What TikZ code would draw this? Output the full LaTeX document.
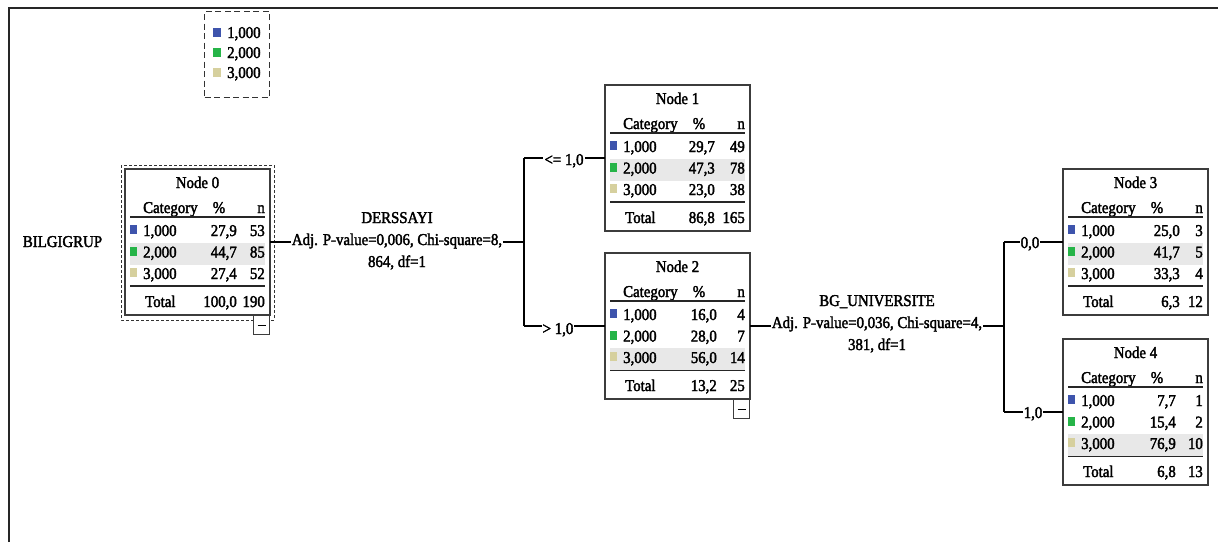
\documentclass[tikz,border=0pt]{standalone}
\usepackage{fontspec}
\setmainfont[FakeStretch=0.9,FakeBold=2.2]{Liberation Serif}
\usetikzlibrary{calc}
\definecolor{cblue}{RGB}{62,84,172}
\definecolor{cgreen}{RGB}{38,180,72}
\definecolor{ctan}{RGB}{214,208,158}
\definecolor{hlgray}{RGB}{232,232,232}
\definecolor{boxline}{RGB}{60,60,60}
\tikzset{
  txt/.style={inner sep=0pt, font=\fontsize{16.5}{19}\selectfont},
  nbox/.style={draw=boxline, line width=1.2pt, minimum width=145pt, minimum height=146pt, inner sep=0pt, outer sep=0pt, anchor=north west},
  rulel/.style={draw=black!85, line width=1.6pt},
  conn/.style={draw=black, line width=1.2pt},
  lbl/.style={txt, fill=white, inner sep=1pt},
  minusbox/.style={draw=boxline, fill=white, line width=1pt, minimum width=16pt, minimum height=19pt, inner sep=0pt, anchor=north east},
  selbox/.style={draw=black!80, line width=1pt, dash pattern=on 3pt off 2pt},
  legbox/.style={draw=black!80, line width=1.2pt, dash pattern=on 6pt off 3.5pt},
  framel/.style={draw=black!85, line width=2pt},
}
\newcommand\ctree[4]{%
  \node[nbox] (#1) at (#2,#3) {};
  \node[txt,anchor=base] (#1-title) at ($(#1.north west)+(72.5,19)$) {#4};
  \node[txt,anchor=base west] (#1-hc) at ($(#1.north west)+(18,44)$) {Category};
  \node[txt,anchor=base] (#1-hp) at ($(#1.north west)+(94,44)$) {\%};
  \node[txt,anchor=base east] (#1-hn) at ($(#1.north west)+(140,44)$) {n};
  \draw[rulel] ($(#1.north west)+(5,48)$) -- ($(#1.north west)+(140,48)$);
  \draw[rulel] ($(#1.north west)+(5,117)$) -- ($(#1.north west)+(140,117)$);
}
\newcommand\hlrow[2]{\fill[hlgray] ($(#1.north west)+(5,#2-15)$) rectangle ($(#1.north west)+(140,#2+7)$);}
\newcommand\crow[7]{%
  \fill[#4] ($(#1.north west)+(5,#3-11)$) rectangle ($(#1.north west)+(12,#3-2)$);
  \node[txt,anchor=base west] (#1-#2l) at ($(#1.north west)+(18,#3)$) {#5};
  \node[txt,anchor=base east] (#1-#2p) at ($(#1.north west)+(\pctx,#3)$) {#6};
  \node[txt,anchor=base east] (#1-#2n) at ($(#1.north west)+(140,#3)$) {#7};
}
\newcommand\ctotal[3]{%
  \node[txt,anchor=base west] (#1-tl) at ($(#1.north west)+(20,138)$) {Total};
  \node[txt,anchor=base east] (#1-tp) at ($(#1.north west)+(\pctx,138)$) {#2};
  \node[txt,anchor=base east] (#1-tn) at ($(#1.north west)+(140,138)$) {#3};
}
\begin{document}
\begin{tikzpicture}[x=1pt,y=-1pt]
\useasboundingbox (0,0) rectangle (1218,542);
% outer frame
\draw[framel] (9,542) -- (9,8) -- (1218,8);

% legend
\node[legbox, minimum width=65pt, minimum height=86pt, anchor=north west] (legend) at (204,11) {};
\fill[cblue] (213,28) rectangle (221,37);
\node[txt,anchor=base west] (leg1) at (227,38) {1,000};
\fill[cgreen] (213,48) rectangle (221,57);
\node[txt,anchor=base west] (leg2) at (227,58) {2,000};
\fill[ctan] (213,68) rectangle (221,77);
\node[txt,anchor=base west] (leg3) at (227,78) {3,000};

% root label
\node[txt,anchor=base] (root) at (62.5,247) {BILGIGRUP};

% Node 0
\def\pctx{112}
\ctree{n0}{125}{169}{Node 0}
\hlrow{n0}{88.5}
\crow{n0}{a}{67}{cblue}{1,000}{27,9}{53}
\crow{n0}{b}{88.5}{cgreen}{2,000}{44,7}{85}
\crow{n0}{c}{110}{ctan}{3,000}{27,4}{52}
\ctotal{n0}{100,0}{190}
\draw[selbox] ($(n0.north west)+(-4,-4)$) rectangle ($(n0.south east)+(4,5)$);
\node[minusbox] (m0) at (n0.south east) {};
\draw[line width=1pt] ($(m0.center)+(-4,0)$) -- ($(m0.center)+(4,0)$);

% Node 1
\def\pctx{110}
\ctree{n1}{605}{85}{Node 1}
\hlrow{n1}{88.5}
\crow{n1}{a}{67}{cblue}{1,000}{29,7}{49}
\crow{n1}{b}{88.5}{cgreen}{2,000}{47,3}{78}
\crow{n1}{c}{110}{ctan}{3,000}{23,0}{38}
\ctotal{n1}{86,8}{165}

% Node 2
\def\pctx{112}
\ctree{n2}{605}{253}{Node 2}
\hlrow{n2}{110}
\crow{n2}{a}{67}{cblue}{1,000}{16,0}{4}
\crow{n2}{b}{88.5}{cgreen}{2,000}{28,0}{7}
\crow{n2}{c}{110}{ctan}{3,000}{56,0}{14}
\ctotal{n2}{13,2}{25}
\node[minusbox] (m2) at (n2.south east) {};
\draw[line width=1pt] ($(m2.center)+(-4,0)$) -- ($(m2.center)+(4,0)$);

% Node 3
\def\pctx{117}
\ctree{n3}{1063}{169}{Node 3}
\hlrow{n3}{88.5}
\crow{n3}{a}{67}{cblue}{1,000}{25,0}{3}
\crow{n3}{b}{88.5}{cgreen}{2,000}{41,7}{5}
\crow{n3}{c}{110}{ctan}{3,000}{33,3}{4}
\ctotal{n3}{6,3}{12}

% Node 4
\def\pctx{113}
\ctree{n4}{1063}{339}{Node 4}
\hlrow{n4}{110}
\crow{n4}{a}{67}{cblue}{1,000}{7,7}{1}
\crow{n4}{b}{88.5}{cgreen}{2,000}{15,4}{2}
\crow{n4}{c}{110}{ctan}{3,000}{76,9}{10}
\ctotal{n4}{6,8}{13}

% connectors, first split
\coordinate (s1) at (524,242);
\draw[conn] (n0.east) -- (s1);
\draw[conn] (s1 |- n1.west) -- (s1 |- n2.west);
\draw[conn] (s1 |- n1.west) -- (n1.west);
\draw[conn] (s1 |- n2.west) -- (n2.west);
\node[txt,anchor=base] (d1) at (397,223) {DERSSAYI};
\node[lbl,anchor=base] (d2) at (397,245) {Adj. P-value=0,006, Chi-square=8,};
\node[txt,anchor=base] (d3) at (397,267) {864, df=1};
\node[lbl,anchor=base] (e1) at (564,165) {<= 1,0};
\node[lbl,anchor=base] (e2) at (558,334) {> 1,0};

% second split
\coordinate (s2) at (1004,326);
\draw[conn] (n2.east) -- (s2);
\draw[conn] (s2 |- n3.west) -- (s2 |- n4.west);
\draw[conn] (s2 |- n3.west) -- (n3.west);
\draw[conn] (s2 |- n4.west) -- (n4.west);
\node[txt,anchor=base] (b1) at (877,306) {BG\_UNIVERSITE};
\node[lbl,anchor=base] (b2) at (877,328) {Adj. P-value=0,036, Chi-square=4,};
\node[txt,anchor=base] (b3) at (877,350) {381, df=1};
\node[lbl,anchor=base] (f1) at (1030,248) {0,0};
\node[lbl,anchor=base] (f2) at (1033,418) {1,0};
\end{tikzpicture}
\end{document}
